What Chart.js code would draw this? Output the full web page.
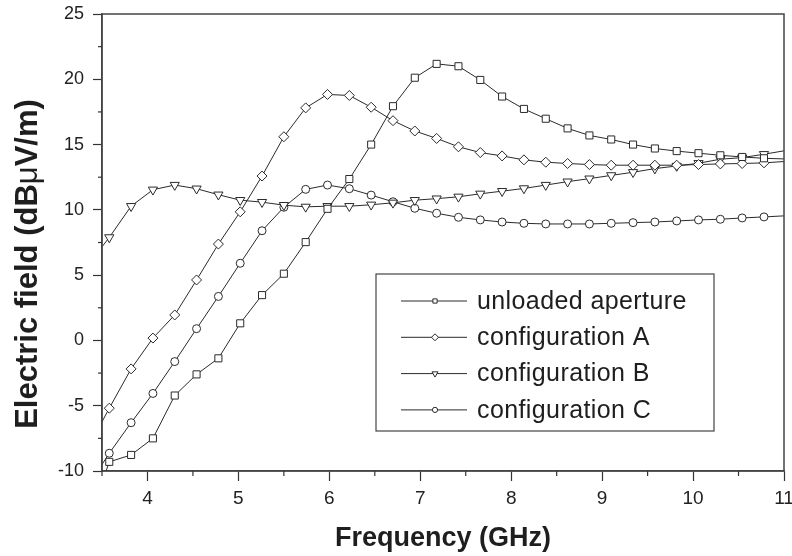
<!DOCTYPE html>
<html>
<head>
<meta charset="utf-8">
<script src="https://cdn.jsdelivr.net/npm/chart.js@4.4.0/dist/chart.umd.min.js"></script>
<style>
  html, body { margin: 0; padding: 0; background: #fff; }
  #wrap { width: 792px; height: 556px; }
</style>
</head>
<body>
<div id="wrap"><canvas id="grafico" width="792" height="556"></canvas></div>
<script>
// frequencia (GHz) - primeiro e ultimo ponto sao as pontas da linha, sem marcador
var freq = [3.5, 3.58, 3.82, 4.06, 4.30, 4.54, 4.78, 5.02, 5.26, 5.50, 5.74, 5.98, 6.22, 6.46, 6.70, 6.94,
  7.18, 7.42, 7.66, 7.90, 8.14, 8.38, 8.62, 8.86, 9.10, 9.34, 9.58, 9.82, 10.06, 10.30, 10.54, 10.78, 11];

var unloaded = [-10.9, -9.3, -8.77, -7.5, -4.22, -2.6, -1.37, 1.31, 3.47, 5.11, 7.53, 10.08, 12.36, 15.0, 17.94, 20.12,
  21.18, 21.0, 19.95, 18.68, 17.73, 16.98, 16.24, 15.70, 15.39, 15.0, 14.7, 14.5, 14.34, 14.18, 14.05, 13.95, 13.9];

var configA = [-6.23, -5.19, -2.18, 0.18, 1.95, 4.63, 7.38, 9.85, 12.59, 15.6, 17.81, 18.84, 18.76, 17.86, 16.83, 16.04,
  15.47, 14.83, 14.39, 14.13, 13.83, 13.65, 13.55, 13.47, 13.42, 13.42, 13.42, 13.42, 13.47, 13.52, 13.55, 13.6, 13.7];

var configB = [7.17, 7.89, 10.28, 11.54, 11.9, 11.62, 11.16, 10.74, 10.59, 10.36, 10.23, 10.28, 10.28, 10.39, 10.54, 10.74,
  10.86, 11.0, 11.23, 11.43, 11.64, 11.9, 12.16, 12.39, 12.64, 12.88, 13.16, 13.36, 13.57, 13.88, 14.0, 14.26, 14.52];

var configC = [-9.5, -8.64, -6.3, -4.06, -1.62, 0.9, 3.37, 5.91, 8.4, 10.2, 11.57, 11.9, 11.62, 11.13, 10.62, 10.12,
  9.74, 9.43, 9.23, 9.07, 8.97, 8.92, 8.92, 8.92, 8.97, 9.02, 9.07, 9.15, 9.23, 9.28, 9.38, 9.46, 9.54];

var nomes = ["unloaded aperture", "configuration A", "configuration B", "configuration C"];
// titulo y em pedacos: o mu nao e negrito no original
var tituloY = [["Electric field (dB", "bold"], ["\u03bc", "normal"], ["V/m)", "bold"]];

var fonte = "'Liberation Sans', Arial, Helvetica, sans-serif";
var corLinha = "#2a2a2a";

function montarPontos(valores) {
  var pts = [];
  for (var i = 0; i < freq.length; i++) {
    pts.push({ x: freq[i], y: valores[i] });
  }
  return pts;
}

function criarSerie(nome, valores, estilo, raio, rotacao) {
  return {
    label: nome,
    data: montarPontos(valores),
    borderColor: corLinha,
    borderWidth: 1,
    backgroundColor: "#fff",
    pointStyle: estilo,
    pointRotation: rotacao,
    pointBackgroundColor: "#fff",
    pointBorderColor: corLinha,
    pointBorderWidth: 1,
    pointRadius: function (ctx) {
      if (ctx.dataIndex == 0 || ctx.dataIndex == freq.length - 1) return 0;
      return raio;
    },
    tension: 0,
    fill: false,
  };
}

// moldura, ticks menores, titulo do eixo y e legenda com caixa
var legendaCaixa = {
  id: "legendaCaixa",
  afterDraw: function (chart) {
    var ctx = chart.ctx;
    var area = chart.chartArea;
    ctx.save();

    ctx.strokeStyle = "#444";
    ctx.lineWidth = 1.5;
    ctx.strokeRect(area.left, area.top, area.right - area.left, area.bottom - area.top);

    ctx.lineWidth = 1.2;
    ctx.strokeStyle = "#333";
    var sx = chart.scales.x, sy = chart.scales.y;
    for (var v = 3.5; v <= 11; v += 1) {
      var px = sx.getPixelForValue(v);
      ctx.beginPath();
      ctx.moveTo(px, area.bottom);
      ctx.lineTo(px, area.bottom + 5);
      ctx.stroke();
    }
    for (var w = -7.5; w <= 25; w += 5) {
      var py = sy.getPixelForValue(w);
      ctx.beginPath();
      ctx.moveTo(area.left, py);
      ctx.lineTo(area.left - 4, py);
      ctx.stroke();
    }

    // titulo y
    ctx.save();
    ctx.translate(28, 264);
    ctx.rotate(-Math.PI / 2);
    ctx.fillStyle = "#1e1e1e";
    ctx.textAlign = "left";
    ctx.textBaseline = "middle";
    var total = 0;
    for (var k = 0; k < tituloY.length; k++) {
      ctx.font = tituloY[k][1] + " 31px " + fonte;
      total += ctx.measureText(tituloY[k][0]).width;
    }
    var tx = -total / 2;
    for (var k2 = 0; k2 < tituloY.length; k2++) {
      ctx.font = tituloY[k2][1] + " 31px " + fonte;
      ctx.fillText(tituloY[k2][0], tx, 0);
      tx += ctx.measureText(tituloY[k2][0]).width;
    }
    ctx.restore();

    // caixa da legenda
    var bx = area.left + 274, by = area.top + 260, bw = 338, bh = 157;
    ctx.lineWidth = 1.2;
    ctx.strokeStyle = "#444";
    ctx.strokeRect(bx, by, bw, bh);

    var estilos = [
      { pointStyle: "rect", radius: 3, rotation: 0 },
      { pointStyle: "rectRot", radius: 3.5, rotation: 0 },
      { pointStyle: "triangle", radius: 3.5, rotation: 180 },
      { pointStyle: "circle", radius: 2.6, rotation: 0 },
    ];
    ctx.font = "25px " + fonte;
    ctx.letterSpacing = "0.4px";
    ctx.textBaseline = "middle";
    ctx.textAlign = "left";
    for (var i = 0; i < nomes.length; i++) {
      var ly = by + 27 + i * 36.3;
      ctx.strokeStyle = corLinha;
      ctx.lineWidth = 1;
      ctx.beginPath();
      ctx.moveTo(bx + 25, ly);
      ctx.lineTo(bx + 91, ly);
      ctx.stroke();
      ctx.fillStyle = "#fff";
      Chart.helpers.drawPoint(ctx, {
        pointStyle: estilos[i].pointStyle,
        radius: estilos[i].radius,
        rotation: estilos[i].rotation,
        borderWidth: 1,
      }, bx + 59, ly);
      ctx.fillStyle = "#1e1e1e";
      ctx.fillText(nomes[i], bx + 101, ly + 1);
    }
    ctx.restore();
  },
};

var ctx1 = document.getElementById("grafico").getContext("2d");

var grafico = new Chart(ctx1, {
  type: "line",
  data: {
    datasets: [
      criarSerie(nomes[0], unloaded, "rect", 5, 0),
      criarSerie(nomes[1], configA, "rectRot", 5, 0),
      criarSerie(nomes[2], configB, "triangle", 5.3, 180),
      criarSerie(nomes[3], configC, "circle", 4, 0),
    ],
  },
  options: {
    responsive: false,
    animation: false,
    layout: {
      padding: { left: 14, right: 0, top: 14, bottom: 1 },
    },
    plugins: {
      legend: { display: false },
      tooltip: { enabled: false },
    },
    scales: {
      x: {
        type: "linear",
        min: 3.5,
        max: 11,
        ticks: {
          stepSize: 0.5,
          autoSkip: false,
          maxRotation: 0,
          padding: 6,
          color: "#222",
          font: { family: fonte, size: 19 },
          callback: function (v) {
            return Number.isInteger(v) ? v : "";
          },
        },
        grid: {
          drawOnChartArea: false,
          tickLength: 10,
          tickWidth: 1.2,
          tickColor: function (c) {
            return c.tick && Number.isInteger(c.tick.value) ? "#333" : "transparent";
          },
        },
        border: { display: true, color: "#444", width: 1.5 },
        title: {
          display: true,
          text: "Frequency (GHz)",
          color: "#1e1e1e",
          padding: 0,
          font: { family: fonte, size: 27, weight: "bold" },
        },
        afterFit: function (s) {
          s.height = 84;
          s.paddingRight = 8;
        },
      },
      y: {
        min: -10,
        max: 25,
        ticks: {
          stepSize: 2.5,
          autoSkip: false,
          padding: 9,
          color: "#222",
          font: { family: fonte, size: 18 },
          callback: function (v) {
            return v % 5 == 0 ? v : "";
          },
        },
        grid: {
          drawOnChartArea: false,
          tickLength: 9,
          tickWidth: 1.2,
          tickColor: function (c) {
            return c.tick && c.tick.value % 5 == 0 ? "#333" : "transparent";
          },
        },
        border: { display: true, color: "#444", width: 1.5 },
        title: { display: false },
        afterFit: function (s) {
          s.width = 88;
          s.paddingTop = 0;
        },
      },
    },
  },
  plugins: [legendaCaixa],
});
</script>
</body>
</html>
